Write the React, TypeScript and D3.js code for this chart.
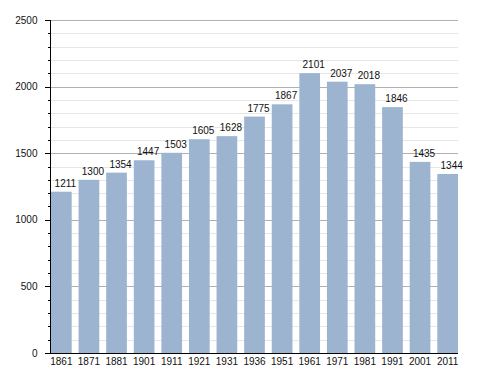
import { useRef, useEffect } from "react";
import * as d3 from "d3";

const years = ["1861", "1871", "1881", "1901", "1911", "1921", "1931", "1936", "1951", "1961", "1971", "1981", "1991", "2001", "2011"];
const population = [1211, 1300, 1354, 1447, 1503, 1605, 1628, 1775, 1867, 2101, 2037, 2018, 1846, 1435, 1344];
const majorTicks = [0, 500, 1000, 1500, 2000, 2500];

const width = 488;
const height = 373;

const App = () => {
  const svgRef = useRef<SVGSVGElement>(null);

  useEffect(() => {
    const svg = d3.select(svgRef.current);
    svg.selectAll("*").remove();

    const x = d3.scaleBand().domain(years).range([51, 458]).paddingInner(0.25).paddingOuter(0);
    const y = d3.scaleLinear().domain([0, 2500]).range([353, 20]);
    const minorTicks = d3.range(0, 2501, 100).filter((v) => v % 500 !== 0);

    // light grid every 100
    svg.append("g")
      .selectAll("line")
      .data(minorTicks)
      .join("line")
      .attr("x1", 50)
      .attr("x2", 458)
      .attr("y1", (d) => Math.round(y(d)) + 0.5)
      .attr("y2", (d) => Math.round(y(d)) + 0.5)
      .attr("stroke", "#e6e6e6");

    // darker grid every 500
    svg.append("g")
      .selectAll("line")
      .data(majorTicks.filter((d) => d > 0))
      .join("line")
      .attr("x1", 50)
      .attr("x2", 458)
      .attr("y1", (d) => Math.round(y(d)) + 0.5)
      .attr("y2", (d) => Math.round(y(d)) + 0.5)
      .attr("stroke", "#b0b0b0");

    svg.append("g")
      .selectAll("rect")
      .data(population)
      .join("rect")
      .attr("x", (_, i) => x(years[i])!)
      .attr("y", (d) => y(d))
      .attr("width", x.bandwidth())
      .attr("height", (d) => y(0) - y(d))
      .attr("fill", "#9cb4d0");

    // value labels sit a little right of the bar centre, as in the original
    svg.append("g")
      .selectAll("text")
      .data(population)
      .join("text")
      .attr("x", (_, i) => x(years[i])! + x.bandwidth() / 2 + 4)
      .attr("y", (d) => y(d) - 5)
      .attr("text-anchor", "middle")
      .attr("font-family", "Liberation Sans, Arial, sans-serif")
      .attr("font-size", 10)
      .attr("fill", "#111")
      .text((d) => d);

    // y axis with minor ticks
    const yAxis = svg.append("g").attr("transform", "translate(50.5,0)");
    yAxis.append("line").attr("y1", y(2500)).attr("y2", y(0)).attr("stroke", "#000");
    yAxis.selectAll(".minor")
      .data(minorTicks)
      .join("line")
      .attr("class", "minor")
      .attr("x1", -2.5)
      .attr("x2", 0)
      .attr("y1", (d) => Math.round(y(d)) + 0.5)
      .attr("y2", (d) => Math.round(y(d)) + 0.5)
      .attr("stroke", "#000");
    yAxis.selectAll(".major")
      .data(majorTicks)
      .join("line")
      .attr("class", "major")
      .attr("x1", -5.5)
      .attr("x2", 0)
      .attr("y1", (d) => Math.round(y(d)) + 0.5)
      .attr("y2", (d) => Math.round(y(d)) + 0.5)
      .attr("stroke", "#000");
    yAxis.selectAll("text")
      .data(majorTicks)
      .join("text")
      .attr("x", -13)
      .attr("y", (d) => y(d))
      .attr("dy", "0.35em")
      .attr("text-anchor", "end")
      .attr("font-family", "Liberation Sans, Arial, sans-serif")
      .attr("font-size", 10)
      .attr("fill", "#111")
      .text((d) => d);

    // x axis
    const xAxis = svg.append("g");
    xAxis.append("line")
      .attr("x1", 50)
      .attr("x2", 458)
      .attr("y1", y(0) + 0.5)
      .attr("y2", y(0) + 0.5)
      .attr("stroke", "#000");
    xAxis.selectAll("text")
      .data(years)
      .join("text")
      .attr("x", (d) => x(d)! + x.bandwidth() / 2)
      .attr("y", 364.5)
      .attr("text-anchor", "middle")
      .attr("font-family", "Liberation Sans, Arial, sans-serif")
      .attr("font-size", 10)
      .attr("fill", "#111")
      .text((d) => d);
  }, []);

  return (
    <svg
      ref={svgRef}
      width={width}
      height={height}
      style={{ position: "absolute", left: 0, top: 0, display: "block", background: "#fff" }}
    />
  );
};

export default App;
